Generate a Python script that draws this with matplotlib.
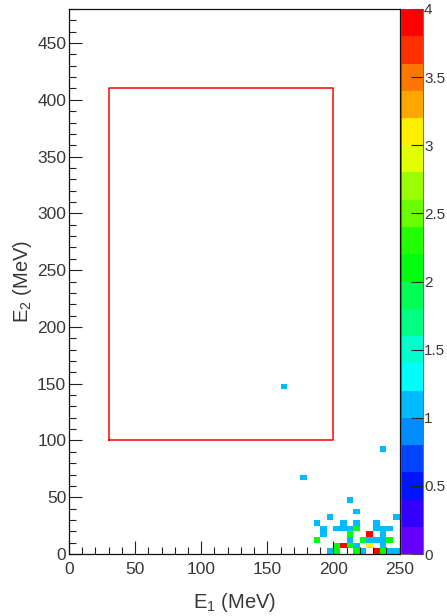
"""
E1 vs E2 energy map with the selection window drawn on top
"""

import colorsys

import matplotlib
matplotlib.use("Agg")
import matplotlib.pyplot as plt
import numpy as np
from matplotlib.colors import BoundaryNorm, ListedColormap

plt.rcParams["font.family"] = ["Liberation Sans", "DejaVu Sans"]
plt.rcParams["mathtext.default"] = "regular"

# ------------------ Filled bins (lower edge in MeV, entries)
cell_e1 = [160, 175, 235,
           210,
           215,
           195, 245,
           185, 205, 215, 230,
           190, 200, 205, 210, 215, 230, 235, 240,
           190, 210, 225, 235,
           185, 210, 220, 225, 230, 235, 240,
           200, 205, 210, 215, 225, 235,
           195, 200, 215, 220, 230, 235, 240, 245]
cell_e2 = [145, 65, 90,
           45,
           35,
           30, 30,
           25, 25, 25, 25,
           20, 20, 20, 20, 20, 20, 20, 20,
           15, 15, 15, 15,
           10, 10, 10, 10, 10, 10, 10,
           5, 5, 5, 5, 5, 5,
           0, 0, 0, 0, 0, 0, 0, 0]
cell_n = [1, 1, 1,
          1,
          1,
          1, 1,
          1, 1, 1, 1,
          1, 1, 1, 1, 2, 1, 1, 1,
          1, 2, 4, 1,
          2, 1, 2, 1, 1, 1, 2,
          2, 4, 2, 1, 3, 1,
          1, 2, 2, 1, 4, 2, 1, 1]

# selection window
win_e1 = [30, 200]
win_e2 = [100, 410]

bin_width = 5
e1_edges = np.arange(0, 250 + bin_width, bin_width)
e2_edges = np.arange(0, 480 + bin_width, bin_width)

counts = np.zeros((len(e2_edges) - 1, len(e1_edges) - 1))
for e1, e2, n in zip(cell_e1, cell_e2, cell_n):
    counts[e2 // bin_width, e1 // bin_width] += n
counts = np.ma.masked_equal(counts, 0)

# ------------------ 20 level rainbow palette (violet -> red)
n_levels = 20
palette = []
for k in range(n_levels):
    idx = int((k + 0.99) * 50 / n_levels)
    hue = 280 - (idx + 1) * 280 / 50
    palette.append(colorsys.hls_to_rgb(hue / 360, 0.5, 1.0))
cmap = ListedColormap(palette)
cmap.set_over(palette[-1])
bounds = np.round(np.arange(n_levels + 1) * 0.2, 10)
norm = BoundaryNorm(bounds, n_levels)

text_col = "#383838"

fig = plt.figure(figsize=(4.47, 6.16), dpi=100)
ax = fig.add_axes([69 / 447, 1 - 554 / 616, 330.5 / 447, 545 / 616])
cax = fig.add_axes([400.5 / 447, 1 - 554 / 616, 22.2 / 447, 545 / 616])

mesh = ax.pcolormesh(e1_edges, e2_edges, counts, cmap=cmap, norm=norm)

ax.plot([win_e1[0], win_e1[1], win_e1[1], win_e1[0], win_e1[0]],
        [win_e2[0], win_e2[0], win_e2[1], win_e2[1], win_e2[0]],
        color="#ff0000", linewidth=1.1)

ax.set_xlim(0, 250)
ax.set_ylim(0, 480)
ax.set_xticks(np.arange(0, 251, 50))
ax.set_xticks(np.arange(0, 251, 10), minor=True)
ax.set_yticks(np.arange(0, 451, 50))
ax.set_yticks(np.arange(0, 481, 10), minor=True)
ax.tick_params(which="both", direction="in", top=False, right=False,
               colors="#222222", labelcolor=text_col, labelsize=12.5, width=0.8)
ax.tick_params(which="major", length=9.4)
ax.tick_params(which="minor", length=4.7)
ax.tick_params(axis="x", pad=6)
ax.tick_params(axis="y", pad=2)
for spine in ax.spines.values():
    spine.set_linewidth(0.9)
    spine.set_color("#111111")

ax.set_xlabel("E$_1$ (MeV)", fontsize=14.5, color=text_col, labelpad=10)
ax.set_ylabel("E$_2$ (MeV)", fontsize=14.5, color=text_col, labelpad=2)

cbar = fig.colorbar(mesh, cax=cax, ticks=np.arange(0, 4.01, 0.5), extend="neither")
cbar.ax.set_yticklabels(["0", "0.5", "1", "1.5", "2", "2.5", "3", "3.5", "4"])
cbar.ax.tick_params(direction="in", length=8.5, width=0.8, colors="#222222",
                    labelcolor=text_col, labelsize=11, pad=1)
cbar.ax.minorticks_off()
cbar.outline.set_linewidth(0.6)
cbar.outline.set_edgecolor("#555555")

fig.savefig("out.png", dpi=100, facecolor="white")
